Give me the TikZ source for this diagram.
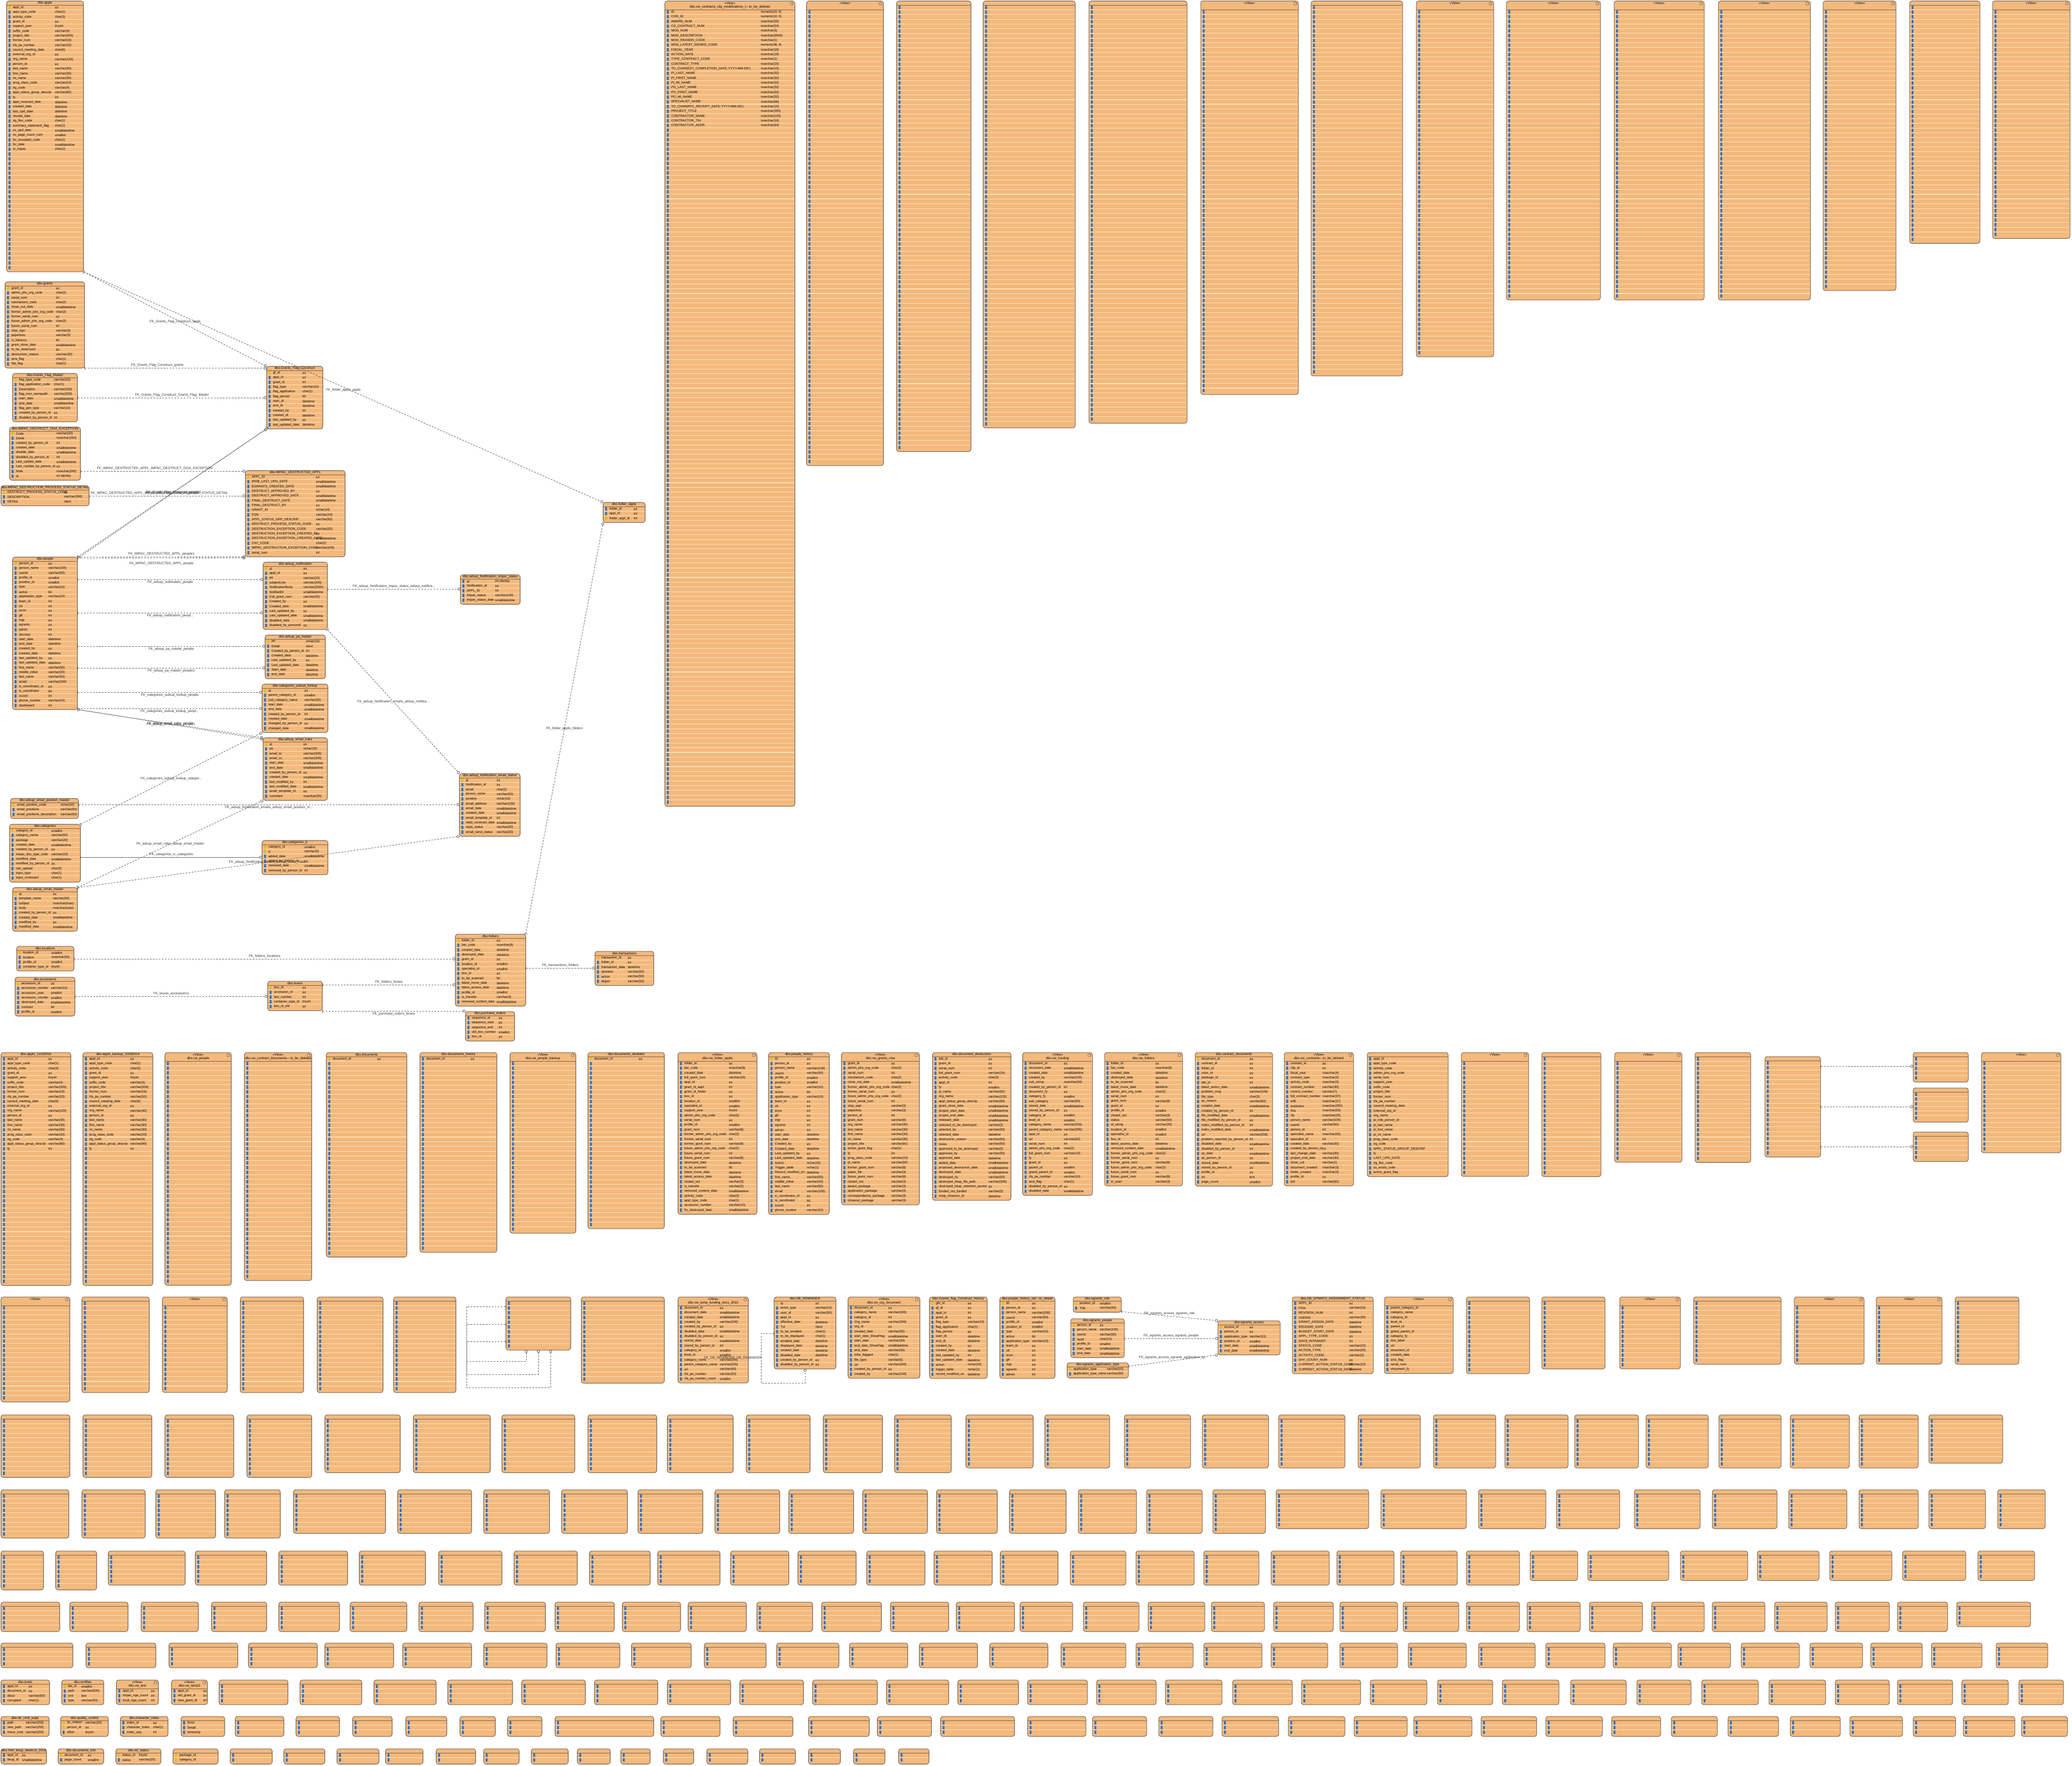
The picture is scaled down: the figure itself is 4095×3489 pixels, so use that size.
\documentclass[tikz,border=0pt]{standalone}
\usepackage{fontspec}
\setmainfont{Liberation Sans}
\usetikzlibrary{arrows.meta}
\definecolor{TblFill}{RGB}{243,185,125}
\definecolor{TblLine}{RGB}{112,98,84}
\definecolor{RowLine}{RGB}{252,226,184}
\definecolor{ColBlue}{RGB}{38,112,205}
\definecolor{KeyGold}{RGB}{236,186,28}
\definecolor{FkGray}{RGB}{95,95,95}
\tikzset{
	tbl/.style={draw=TblLine,fill=TblFill,line width=0.3pt,rounded corners=0.45mm,anchor=north west,inner sep=0pt,outer sep=0pt},
	hdrsep/.style={draw=TblLine,line width=0.25pt},
	rowsep/.style={draw=RowLine,line width=0.3pt},
	colicon/.style={fill=ColBlue},
	keyicon/.style={fill=KeyGold},
	viewicon/.style={draw=TblLine,line width=0.2pt,rounded corners=0.15mm},
	tbltitle/.style={inner sep=0pt,font=\fontsize{1.85}{2.1}\selectfont},
	coltxt/.style={anchor=west,inner sep=0pt,font=\fontsize{1.8}{2}\selectfont},
	fk/.style={draw=FkGray,line width=0.25pt,dash pattern=on 1pt off 0.7pt,
		{Bar[width=2pt,line width=0.25pt]}-{Circle[open,length=1.6pt,width=1.6pt,line width=0.25pt]}},
	fklabel/.style={inner sep=0.6pt,font=\fontsize{1.9}{2.1}\selectfont,text=black!80},
}
% table body: header height, name, x1, y1, x2, rows
\newcommand{\erbody}[6]{%
	\pgfmathsetmacro\erht{#1+9.35*#6+3.5}%
	\pgfmathsetmacro\erwd{#5-#3}%
	\node[tbl,minimum width=\erwd*0.1mm,minimum height=\erht*0.1mm] (#2) at (#3,#4) {};%
	\draw[hdrsep] (#3,#4+#1) -- (#5,#4+#1);%
	\ifnum#6>1\relax
	\draw[rowsep] \foreach \k in {2,...,#6}{(#3+1,{#4+#1+9.35*(\k-1)}) -- (#5-1,{#4+#1+9.35*(\k-1)})};%
	\fi
	\fill[colicon] \foreach \k in {1,...,#6}{(#3+4,{#4+#1+9.35*\k-8}) rectangle ++(3.5,6.6)};%
}
\newcommand{\ertable}[6]{\erbody{8}{#1}{#2}{#3}{#4}{#5}%
	\node[tbltitle] at ({(#2+#4)/2},#3+4.2) {#6};}
\newcommand{\erview}[6]{\erbody{17}{#1}{#2}{#3}{#4}{#5}%
	\node[tbltitle] at ({(#2+#4)/2},#3+4.6) {<<View>>};%
	\node[tbltitle] at ({(#2+#4)/2},#3+12.2) {#6};%
	\draw[viewicon] (#4-9,#3+2.5) rectangle (#4-3.5,#3+8);}
% column texts: [header], x1, y1, type offset, list
\newcommand{\ertext}[5][8]{%
	\foreach \cn/\ct [count=\k] in {#5}{%
		\node[coltxt] at (#2+12,{#3+#1+9.35*\k-4.6}) {\cn};
		\node[coltxt] at (#2+#4,{#3+#1+9.35*\k-4.6}) {\ct};}}
% key mark: x1, y1, row
\newcommand{\erkey}[3]{\fill[keyicon] (#1+4,{#2+8+9.35*#3-8}) rectangle ++(3.5,6.6);}

\begin{document}
\catcode`\_=12
\begin{tikzpicture}[x=0.1mm,y=-0.1mm]
\useasboundingbox (0,0) rectangle (4095,3489);
\fill[white] (0,0) rectangle (4095,3489);

% ---- linked tables, left part
\ertable{appls}{13}{2}{165}{56}{dbo.appls}
\ertext{13}{2}{95}{appl_id/int,appl_type_code/char(1),activity_code/char(3),grant_id/int,support_year/tinyint,suffix_code/varchar(4),project_title/varchar(200),former_num/varchar(19),rfa_pa_number/varchar(10),council_meeting_date/char(6),external_org_id/int,org_name/varchar(120),person_id/int,last_name/varchar(30),first_name/varchar(30),mi_name/varchar(30),prog_class_code/varchar(10),irg_code/varchar(4),appl_status_group_descrip/varchar(60),fy/int,appl_received_date/datetime,created_date/datetime,last_upd_date/datetime,receipt_date/datetime,irg_flex_code/char(1),summary_statement_flag/char(1),ss_upd_date/smalldatetime,ss_page_count_num/smallint,fsr_accepted_code/char(1),fsr_date/smalldatetime,in_impac/char(1)}
\erkey{13}{2}{1}
\ertable{grants}{10}{557}{167}{17}{dbo.grants}
\ertext{10}{557}{100}{grant_id/int,admin_phs_org_code/char(2),serial_num/int,mechanism_code/char(2),close_out_date/smalldatetime,former_admin_phs_org_code/char(2),former_serial_num/int,future_admin_phs_org_code/char(2),future_serial_num/int,stop_sign/varchar(3),paperless/varchar(3),is_tobacco/bit,grant_close_date/smalldatetime,to_be_destroyed/bit,destruction_reason/varchar(30),arra_flag/char(1),fda_flag/char(1)}
\erkey{10}{557}{1}
\ertable{gfm}{25}{738}{153}{9}{dbo.Grants_Flag_Master}
\ertext{25}{738}{81}{flag_type_code/varchar(10),flag_application_code/char(1),Description/varchar(200),flag_icon_namepath/varchar(200),start_date/smalldatetime,end_date/smalldatetime,flag_gen_type/varchar(10),created_by_person_id/int,disabled_by_person_id/int}
\erkey{25}{738}{1}
\ertable{oga}{19}{844}{159}{10}{dbo.IMPAC_DESTRUCT_OGA_EXCEPTION}
\ertext{19}{844}{92}{Code/varchar(20),Detail/nvarchar(200),created_by_person_id/int,created_date/smalldatetime,disable_date/smalldatetime,disabled_by_person_id/int,Last_update_date/smalldatetime,Last_Update_by_person_id/int,Note/nvarchar(200),id/int identity}
\erkey{19}{844}{1}
\ertable{psd}{2}{960}{176}{3}{dbo.IMPAC_DESTRUCTION_PROCESS_STATUS_DETAIL}
\ertext{2}{960}{124}{DESTRUCT_PROCESS_STATUS_CODE/int,DESCRIPTION/varchar(300),DETAIL/ntext}
\erkey{2}{960}{1}
\ertable{gfc}{527}{724}{638}{12}{dbo.Grants_Flag_Construct}
\ertext{527}{724}{70}{gf_id/int,appl_id/int,grant_id/int,flag_type/varchar(10),flag_application/char(1),flag_persist/bit,start_dt/datetime,end_dt/datetime,created_by/int,created_dt/datetime,last_updated_by/int,last_updated_date/datetime}
\erkey{527}{724}{1}
\ertable{ida}{485}{930}{682}{17}{dbo.IMPAC_DESTRUCTED_APPL}
\ertext{485}{930}{139}{APPL_ID/int,IRDB_LAST_UPD_DATE/smalldatetime,EGRANTS_CREATED_DATE/smalldatetime,DESTRUCT_APPROVED_BY/int,DESTRUCT_APPROVED_DATE/smalldatetime,FINAL_DESTRUCT_DATE/smalldatetime,FINAL_DESTRUCT_BY/int,GRANT_ID/nchar(10),FGN/varchar(19),APPL_STATUS_GRP_DESCRIP/varchar(60),DESTRUCT_PROCESS_STATUS_CODE/int,DESTRUCTION_EXCEPTION_CODE/varchar(20),DESTRUCTION_EXCEPTION_CREATED_BY/int,DESTRUCTION_EXCEPTION_CREATED_DATE/smalldatetime,CAY_CODE/char(2),IMPAC_DESTRUCTION_EXCEPTION_CODE/varchar(100),serial_num/int}
\erkey{485}{930}{1}
\ertable{fapp}{1192}{993}{1275}{3}{dbo.folder_appls}
\ertext{1192}{993}{60}{folder_id/int,appl_id/int,folder_appl_id/int}
\erkey{1192}{993}{3}
\ertable{people}{25}{1101}{153}{31}{dbo.people}
\ertext{25}{1101}{70}{person_id/int,person_name/varchar(100),userid/varchar(50),profile_id/smallint,position_id/smallint,type/varchar(10),active/bit,application_type/varchar(10),team_id/int,cft/int,econ/int,gft/int,mgt/int,egrants/int,admin/int,docman/int,start_date/datetime,end_date/datetime,created_by/int,created_date/datetime,last_updated_by/int,last_updated_date/datetime,first_name/varchar(50),middle_initial/varchar(20),last_name/varchar(50),email/varchar(100),ic_coordinator_id/int,is_coordinator/bit,iccord/int,phone_number/varchar(10),dashboard/int}
\erkey{25}{1101}{1}
\ertable{notif}{520}{1111}{647}{13}{dbo.adsup_notification}
\ertext{520}{1111}{79}{id/int,appl_id/int,pa/varchar(10),subjectLine/varchar(200),NotificationBody/varchar(2000),NotifiedDt/smalldatetime,Full_grant_num/varchar(20),Created_by/int,Created_date/smalldatetime,Last_updated_by/int,Last_updated_date/smalldatetime,disabled_date/smalldatetime,disabled_by_personid/int}
\erkey{520}{1111}{1}
\ertable{impst}{910}{1136}{1028}{5}{dbo.adsup_Notification_impac_status}
\ertext{910}{1136}{68}{id/int identity,Notification_id/int,APPL_ID/int,Impac_status/varchar(100),Impac_status_date/smalldatetime}
\ertable{pam}{524}{1255}{643}{8}{dbo.adsup_pa_master}
\ertext{524}{1255}{80}{pa/nchar(10),Detail/ntext,Created_by_person_id/int,Created_date/datetime,Last_updated_by/int,Last_updated_date/datetime,Start_date/datetime,end_date/datetime}
\erkey{524}{1255}{1}
\ertable{subcat}{518}{1352}{648}{9}{dbo.categories_subcat_lookup}
\ertext{518}{1352}{83}{id/int,parent_category_id/smallint,sub_category_name/varchar(35),start_date/smalldatetime,end_date/smalldatetime,created_by_person_id/int,created_date/smalldatetime,changed_by_person_id/int,changed_date/smalldatetime}
\erkey{518}{1352}{1}
\ertable{rules}{520}{1458}{647}{12}{dbo.adsup_email_rules}
\ertext{520}{1458}{79}{id/int,pa/nchar(10),email_to/varchar(200),email_cc/varchar(200),start_date/smalldatetime,end_date/smalldatetime,created_by_person_id/int,created_date/smalldatetime,last_modified_by/int,last_modified_date/smalldatetime,email_template_id/int,comment/nvarchar(50)}
\erkey{520}{1458}{1}
\ertable{emst}{908}{1529}{1028}{12}{dbo.adsup_Notification_email_status}
\ertext{908}{1529}{73}{id/int,Notification_id/int,email/char(2),person_name/varchar(50),position/nchar(10),email_address/varchar(100),email_date/smalldatetime,created_date/smalldatetime,email_template_id/int,reply_recieved_date/smalldatetime,reply_status/varchar(50),email_send_status/varchar(20)}
\erkey{908}{1529}{1}
\ertable{posm}{21}{1578}{155}{3}{dbo.adsup_email_position_master}
\ertext{21}{1578}{98}{email_position_code/nchar(10),email_positions/varchar(50),email_positions_description/varchar(50)}
\erkey{21}{1578}{1}
\ertable{cats}{19}{1629}{159}{11}{dbo.categories}
\ertext{19}{1629}{82}{category_id/smallint,category_name/varchar(50),package/varchar(20),created_date/smalldatetime,created_by_person_id/int,impac_doc_type_code/varchar(10),modified_date/smalldatetime,modified_by_person_id/int,can_upload/char(3),input_type/char(1),input_constraint/char(1)}
\erkey{19}{1629}{1}
\ertable{catic}{518}{1661}{648}{6}{dbo.categories_ic}
\ertext{518}{1661}{83}{category_id/smallint,ic/varchar(5),added_date/smalldatetime,added_by_person_id/int,removed_date/smalldatetime,removed_by_person_id/int}
\erkey{518}{1661}{1}\erkey{518}{1661}{2}
\ertable{emaster}{25}{1754}{153}{8}{dbo.adsup_email_master}
\ertext{25}{1754}{79}{id/int,template_name/varchar(50),subject/nvarchar(max),body/nvarchar(max),created_by_person_id/int,created_date/smalldatetime,modified_by/int,modified_date/smalldatetime}
\erkey{25}{1754}{1}
\ertable{locs}{33}{1870}{146}{4}{dbo.locations}
\ertext{33}{1870}{68}{location_id/smallint,location/nvarchar(50),profile_id/smallint,container_type_id/tinyint}
\erkey{33}{1870}{1}
\ertable{accs}{30}{1931}{148}{7}{dbo.accessions}
\ertext{30}{1931}{70}{accession_id/int,accession_number/varchar(10),accession_year/smallint,accession_counter/smallint,destroyed_date/smalldatetime,contract/bit,profile_id/smallint}
\erkey{30}{1931}{1}
\ertable{boxes}{529}{1939}{637}{5}{dbo.boxes}
\ertext{529}{1939}{68}{box_id/int,accession_id/int,box_number/int,container_type_id/tinyint,box_id_old/int}
\erkey{529}{1939}{1}
\ertable{folders}{900}{1846}{1039}{14}{dbo.folders}
\ertext{900}{1846}{81}{folder_id/int,bar_code/nvarchar(8),created_date/datetime,destroyed_date/datetime,grant_id/int,location_id/smallint,specialist_id/smallint,box_id/int,to_be_scanned/bit,latest_move_date/datetime,latest_access_date/datetime,profile_id/smallint,is_transfer/varchar(3),removed_content_date/smalldatetime}
\erkey{900}{1846}{1}
\ertable{trans}{1176}{1880}{1292}{6}{dbo.transactions}
\ertext{1176}{1880}{64}{transaction_id/int,folder_id/int,transaction_date/datetime,operator/varchar(50),action/varchar(50),object/varchar(50)}
\erkey{1176}{1880}{1}
\ertable{porders}{920}{1999}{1017}{5}{dbo.purchase_orders}
\ertext{920}{1999}{65}{sequence_id/int,sequence_start/int,sequence_end/int,old_box_number/smallint,box_id/int}

% ---- relationships
\draw[fk] (appls.south east) -- (gfc.north west) node[fklabel,midway,below] {FK_Grants_Flag_Construct_appls};
\draw[fk] (appls.south east) -- (fapp.north west) node[fklabel,midway,below] {FK_folder_appls_appls};
\draw[fk] (grants.south east) -- (gfc.west |- grants.south east) node[fklabel,pos=.4,above] {FK_Grants_Flag_Construct_grants};
\draw[fk] (gfm.east |- 0,786) -- (gfc.west |- 0,786) node[fklabel,midway,above] {FK_Grants_Flag_Construct_Grants_Flag_Master};
\draw[fk] (people.north east) -- (gfc.south west) node[fklabel,midway] {FK_Grants_Flag_Construct_people};
\draw[fk] ([xshift=0.4mm]people.north east) -- ([xshift=0.3mm,yshift=0.3mm]gfc.south west) node[fklabel,midway] {FK_Grants_Flag_Construct_people1};
\draw[fk] (oga.east |- 0,931) -- (ida.west |- 0,931) node[fklabel,pos=.45,above] {FK_IMPAC_DESTRUCTED_APPL_IMPAC_DESTRUCT_OGA_EXCEPTION};
\draw[fk] (psd.east |- 0,980) -- (ida.west |- 0,980) node[fklabel,pos=.45,above] {FK_IMPAC_DESTRUCTED_APPL_IMPAC_DESTRUCTION_PROCESS_STATUS_DETAIL};
\draw[fk] (people.north east) -- (ida.south west) node[fklabel,midway,above] {FK_IMPAC_DESTRUCTED_APPL_people1};
\draw[fk] ([yshift=-0.2mm]people.north east) -- ([yshift=-0.2mm]ida.south west) node[fklabel,midway,below=0.5mm] {FK_IMPAC_DESTRUCTED_APPL_people};
\draw[fk] (people.east |- 0,1145) -- (notif.west |- 0,1145) node[fklabel,midway,below] {FK_adsup_notification_people};
\draw[fk] (people.east |- 0,1211) -- (notif.west |- 0,1211) node[fklabel,midway,below] {FK_adsup_notification_peopl...};
\draw[fk] (people.east |- 0,1277) -- (pam.west |- 0,1277) node[fklabel,midway,below] {FK_adsup_pa_master_people};
\draw[fk] (people.east |- 0,1320) -- (pam.west |- 0,1320) node[fklabel,midway,below] {FK_adsup_pa_master_people1};
\draw[fk] (people.east |- 0,1368) -- (subcat.west |- 0,1368) node[fklabel,midway,below] {FK_categories_subcat_lookup_people};
\draw[fk] (people.east |- 0,1400) -- (subcat.west |- 0,1400) node[fklabel,midway,below] {FK_categories_subcat_lookup_peopl...};
\draw[fk] (people.south east) -- (rules.north west) node[fklabel,midway] {FK_adsup_email_rules_people};
\draw[fk] ([xshift=0.3mm]people.south east) -- ([yshift=-0.3mm]rules.north west) node[fklabel,midway] {FK_adsup_email_rules_people1};
\draw[fk] (notif.east |- 0,1164) -- (impst.west |- 0,1164) node[fklabel,midway,above] {FK_adsup_Notification_impac_status_adsup_notifica...};
\draw[fk] (notif.south east) -- (emst.north west) node[fklabel,midway] {FK_adsup_Notification_emails_adsup_notifica...};
\draw[fk] (folders.north east) -- (fapp.south west) node[fklabel,midway] {FK_folder_appls_folders};
\draw[fk] (cats.north east) -- (subcat.south west) node[fklabel,midway] {FK_categories_subcat_lookup_categor...};
\draw[fk] (emaster.north east) -- (rules.south west) node[fklabel,midway] {FK_adsup_email_rules_adsup_email_master};
\draw[fk] (posm.east |- 0,1590) -- (emst.west |- 0,1590) node[fklabel,midway,below] {FK_adsup_Notification_emails_adsup_email_position_m...};
\draw[fk,solid] (cats.east |- 0,1694) -- (catic.west |- 0,1694) node[fklabel,midway,above] {FK_categories_ic_categories};
\draw[fk] (emaster.north east) -- (emst.south west) node[fklabel,midway] {FK_adsup_Notification_emails_adsup_email_mast...};
\draw[fk] (locs.east |- 0,1895) -- (folders.west |- 0,1895) node[fklabel,midway,above] {FK_folders_locations};
\draw[fk] (accs.east |- 0,1969) -- (boxes.west |- 0,1969) node[fklabel,midway,above] {FK_boxes_accessions1};
\draw[fk] (boxes.east |- 0,1946) -- (folders.west |- 0,1946) node[fklabel,midway,above] {FK_folders_boxes};
\draw[fk] (folders.east |- 0,1913) -- (trans.west |- 0,1913) node[fklabel,midway,above] {FK_transactions_folders};
\draw[fk] (boxes.east |- 0,1998) -- (porders.west |- 0,1998) node[fklabel,midway,below] {FK_purchase_orders_boxes};

% ---- tall tables and views, top
\erview{vwa}{1314}{2}{1571}{168}{dbo.vw_contracts_clip_modifications_t-{}-{}-to_be_deleted}
\ertext[17]{1314}{2}{189}{ID/{numeric(10, 0)},CON_ID/{numeric(10, 0)},AWARD_NUM/nvarchar(50),CS_CONTRACT_NUM/nvarchar(54),MOD_NUM/nvarchar(3),MOD_DESCRIPTION/nvarchar(2000),MOD_REASON_CODE/nvarchar(1),MOD_LATEST_SIGNED_CODE/{numeric(38, 0)},FISCAL_YEAR/nvarchar(19),ACTION_DATE/nvarchar(19),TYPE_CONTRACT_CODE/nvarchar(1),CONTRACT_TYPE/nvarchar(10),{TO_CHAR(EST_COMPLETION_DATE,'YYYY-MM-DD')}/nvarchar(10),PI_LAST_NAME/nvarchar(32),PI_FIRST_NAME/nvarchar(32),PI_MI_NAME/nvarchar(32),PO_LAST_NAME/nvarchar(32),PO_FIRST_NAME/nvarchar(32),PO_MI_NAME/nvarchar(32),SPECIALIST_NAME/nvarchar(66),{TO_CHAR(RFC_RECEIPT_DATE,'YYYY-MM-DD')}/nvarchar(10),PROJECT_TITLE/nvarchar(200),CONTRACTOR_NAME/nvarchar(120),CONTRACTOR_TIN/nvarchar(10),CONTRACTOR_ADDR/nvarchar(64)}
\erview{vwb}{1594}{2}{1746}{96}{}
\ertable{tbc}{1772}{2}{1919}{94}{}
\ertable{tbd}{1943}{2}{2125}{89}{}
\ertable{tbe}{2152}{2}{2346}{88}{}
\erview{vwf}{2373}{2}{2566}{81}{}
\ertable{tbg}{2591}{2}{2772}{78}{}
\erview{vwh}{2799}{2}{2952}{73}{}
\erview{vwi}{2977}{2}{3163}{61}{}
\erview{vwj}{3190}{2}{3368}{61}{}
\erview{vwk}{3396}{2}{3578}{61}{}
\erview{vwl}{3603}{2}{3747}{59}{}
\ertable{tbm}{3774}{2}{3913}{50}{}
\erview{vwn}{3938}{2}{4091}{48}{}

% ---- middle band, upper row
\ertable{ap12}{2}{2080}{140}{48}{dbo.appls_12192016}
\ertext{2}{2080}{93}{appl_id/int,appl_type_code/char(1),activity_code/char(3),grant_id/int,support_year/tinyint,suffix_code/varchar(4),project_title/varchar(200),former_num/varchar(19),rfa_pa_number/varchar(10),council_meeting_date/char(6),external_org_id/int,org_name/varchar(120),person_id/int,last_name/varchar(30),first_name/varchar(30),mi_name/varchar(30),prog_class_code/varchar(10),irg_code/varchar(4),appl_status_group_descrip/varchar(60),fy/int}
\ertable{apbk}{164}{2080}{302}{48}{dbo.appls_backup_10292014}
\ertext{164}{2080}{93}{appl_id/int,appl_type_code/char(1),activity_code/char(3),grant_id/int,support_year/tinyint,suffix_code/varchar(4),project_title/varchar(200),former_num/varchar(19),rfa_pa_number/varchar(10),council_meeting_date/char(6),external_org_id/int,org_name/varchar(40),person_id/int,last_name/varchar(30),first_name/varchar(30),mi_name/varchar(30),prog_class_code/varchar(10),irg_code/varchar(4),appl_status_group_descrip/varchar(60),fy/int}
\erview{vwpeople}{326}{2080}{457}{47}{dbo.vw_people}
\erview{vwcdoc}{483}{2080}{616}{46}{dbo.vw_contract_documents-{}-{}-to_be_deleted}
\ertable{docs}{645}{2080}{804}{42}{dbo.documents}
\ertext{645}{2080}{100}{document_id/int}
\erkey{645}{2080}{1}
\ertable{dochist}{830}{2080}{982}{41}{dbo.documents_history}
\ertext{830}{2080}{100}{document_id/int}
\erview{vwpbk}{1008}{2080}{1138}{36}{dbo.vw_people_backup}
\ertable{docdis}{1162}{2080}{1313}{36}{dbo.documents_disabled}
\ertext{1162}{2080}{100}{document_id/int}
\erkey{1162}{2080}{1}
\erview{vwfapp}{1340}{2080}{1496}{32}{dbo.vw_folder_appls}
\ertext[17]{1340}{2080}{100}{folder_id/int,bar_code/nvarchar(8),created_date/datetime,full_grant_num/varchar(19),appl_id/int,grant_id_appl/int,grant_id_folder/int,box_id/int,location_id/smallint,specialist_id/smallint,support_year/tinyint,admin_phs_org_code/char(2),serial_num/int,profile_id/smallint,grant_num/varchar(8),former_admin_phs_org_code/char(2),former_serial_num/int,former_grant_num/varchar(8),future_admin_phs_org_code/char(2),future_serial_num/int,future_grant_num/varchar(8),destroyed_date/datetime,to_be_scanned/bit,latest_move_date/datetime,latest_access_date/datetime,closed_out/varchar(3),is_transfer/varchar(3),removed_content_date/smalldatetime,activity_code/char(3),appl_type_code/char(1),accession_number/varchar(10),frc_destroyed_date/smalldatetime}
\ertable{phist}{1519}{2080}{1639}{33}{dbo.people_history}
\ertext{1519}{2080}{75}{ID/int,person_id/int,person_name/varchar(100),userid/varchar(50),profile_id/smallint,position_id/smallint,type/varchar(10),active/bit,application_type/varchar(10),team_id/int,cft/int,econ/int,gft/int,mgt/int,egrants/int,admin/int,start_date/datetime,end_date/datetime,Created_by/int,Created_date/datetime,Last_updated_by/int,Last_updated_date/datetime,Action/nchar(10),Trigger_table/nchar(1),Record_modified_on/datetime,first_name/varchar(50),middle_initial/varchar(20),last_name/varchar(50),email/varchar(100),ic_coordinator_id/int,is_coordinator/bit,iccord/int,phone_number/varchar(10)}
\erkey{1519}{2080}{1}
\erview{vwgnew}{1663}{2080}{1817}{30}{dbo.vw_grants_new}
\ertext[17]{1663}{2080}{98}{grant_id/int,admin_phs_org_code/char(2),serial_num/int,mechanism_code/char(2),close_out_date/smalldatetime,former_admin_phs_org_code/char(2),former_serial_num/int,future_admin_phs_org_code/char(2),future_serial_num/int,stop_sign/varchar(3),paperless/varchar(3),person_id/int,grant_num/varchar(8),org_name/varchar(40),last_name/varchar(30),first_name/varchar(30),mi_name/varchar(30),project_title/varchar(81),active_grant_flag/char(1),fy/int,prog_class_code/varchar(10),pi_name/varchar(92),former_grant_num/varchar(8),paper_file/varchar(3),future_grant_num/varchar(8),closed_out/varchar(3),award_package/varchar(3),application_package/varchar(3),correspondence_package/varchar(3),closeout_package/varchar(3)}
\ertable{docdes}{1843}{2080}{1998}{30}{dbo.document_destruction}
\ertext{1843}{2080}{110}{tab_id/int,grant_id/int,serial_num/int,full_grant_num/varchar(19),activity_code/char(3),appl_id/int,fy/smallint,pi_name/varchar(92),org_name/varchar(120),appl_status_group_descrip/varchar(60),grant_close_date/smalldatetime,project_start_date/smalldatetime,project_end_date/smalldatetime,released_date/smalldatetime,selected_to_be_destroyed/varchar(3),selected_by/varchar(50),selected_date/datetime,destruction_reason/varchar(50),notes/varchar(50),approved_to_be_destroyed/varchar(3),approved_by/varchar(50),approved_date/datetime,added_date/smalldatetime,proposed_destruction_date/smalldatetime,destroyed_date/smalldatetime,destroyed_by/varchar(50),destroyed_bkup_file_path/varchar(200),destroyed_bkup_retention_period/int,funded_not_funded/varchar(3),impp_closeout_dt/datetime}
\erview{vwfund}{2021}{2080}{2159}{28}{dbo.vw_funding}
\ertext[17]{2021}{2080}{81}{document_id/int,document_date/smalldatetime,created_date/smalldatetime,created_by/varchar(100),sub_string/nvarchar(50),created_by_person_id/int,document_fy/int,category_fy/smallint,sub_category/varchar(50),stored_date/smalldatetime,stored_by_person_id/int,category_id/smallint,level_id/smallint,category_name/varchar(255),parent_category_name/varchar(255),appl_id/int,url/varchar(62),serial_num/int,admin_phs_org_code/char(2),full_grant_num/varchar(19),fy/int,grant_id/int,parent_id/smallint,grand_parent_id/smallint,rfa_pa_number/varchar(10),arra_flag/char(1),disabled_by_person_id/int,disabled_date/smalldatetime}
\erview{vwfold}{2183}{2080}{2337}{26}{dbo.vw_folders}
\ertext[17]{2183}{2080}{100}{folder_id/int,bar_code/nvarchar(8),created_date/datetime,destroyed_date/datetime,to_be_scanned/bit,latest_move_date/datetime,admin_phs_org_code/char(2),serial_num/int,grant_num/varchar(8),grant_id/int,profile_id/smallint,closed_out/varchar(3),status/varchar(50),id_string/varchar(20),location_id/smallint,specialist_id/smallint,box_id/int,latest_access_date/datetime,removed_content_date/smalldatetime,former_admin_phs_org_code/char(2),former_serial_num/int,former_grant_num/varchar(8),future_admin_phs_org_code/char(2),future_serial_num/int,future_grant_num/varchar(8),in_scan/varchar(3)}
\ertable{cdocs}{2362}{2080}{2515}{27}{dbo.contract_documents}
\ertext{2362}{2080}{107}{document_id/int,contract_id/int,folder_id/int,color_id/int,package_id/int,tab_id/int,latest_action_date/smalldatetime,problem_msg/varchar(100),file_type/char(3),qc_reason/varchar(50),created_date/smalldatetime,created_by_person_id/int,file_modified_date/smalldatetime,file_modified_by_person_id/int,index_modified_by_person_id/int,index_modified_date/smalldatetime,url/varchar(200),problem_reported_by_person_id/int,disabled_date/smalldatetime,disabled_by_person_id/int,qc_date/smalldatetime,qc_person_id/int,stored_date/smalldatetime,stored_by_person_id/int,profile_id/int,txt/text,page_count/smallint}
\erkey{2362}{2080}{1}
\erview{vwctr}{2538}{2080}{2675}{26}{dbo.vw_contracts-{}-{}-to_be_deleted}
\ertext[17]{2538}{2080}{75}{contract_id/int,clip_id/int,fiscal_year/nvarchar(4),contract_type/nvarchar(2),activity_code/nvarchar(3),contract_number/varchar(30),control_number/varchar(7),full_contract_number/nvarchar(37),adb/nvarchar(37),institution/nvarchar(255),hhs/nvarchar(20),rfp/nvarchar(20),person_name/varchar(100),userid/varchar(50),person_id/int,specialist_name/nvarchar(50),specialist_id/int,created_date/varchar(30),created_by_person_id/int,last_change_date/varchar(30),project_end_date/varchar(30),close_out/varchar(1),document_created/nvarchar(3),folder_created/nvarchar(3),profile_id/int,pid/varchar(50)}
\ertable{apclip}{2702}{2080}{2862}{25}{}
\ertext{2702}{2080}{100}{appl_id/{},appl_type_code/{},activity_code/{},admin_phs_org_code/{},serial_num/{},support_year/{},suffix_code/{},project_title/{},former_num/{},rfa_pa_number/{},council_meeting_date/{},external_org_id/{},org_name/{},pi_role_person_id/{},pi_last_name/{},pi_first_name/{},pi_mi_name/{},prog_class_code/{},irg_code/{},APPL_STATUS_GROUP_DESCRIP/{},fy/{},LAST_UPD_DATE/{},irg_flex_code/{},ss_exists_code/{},active_grant_flag/{}}
\erview{vwq}{2888}{2080}{3021}{24}{}
\ertable{tbr}{3047}{2080}{3164}{25}{}
\erview{vws}{3191}{2080}{3324}{21}{}
\ertable{tbt}{3350}{2080}{3460}{22}{}
\ertable{umgr}{3488}{2088}{3598}{20}{}
\ertable{umga}{3781}{2080}{3890}{5}{}
\ertable{umgb}{3781}{2150}{3890}{6}{}
\ertable{umgc}{3781}{2237}{3890}{5}{}
\erview{vwu}{3916}{2080}{4073}{19}{}
\draw[fk] (umgr.east |- 0,2107) -- (umga.west |- 0,2107);
\draw[fk] (umgr.east |- 0,2187) -- (umgb.west |- 0,2187);
\draw[fk] (umgr.east |- 0,2266) -- (umgc.west |- 0,2266);

% ---- middle band, lower row
\erview{lwa}{2}{2563}{138}{20}{}
\ertable{lwb}{162}{2563}{295}{19}{}
\erview{lwc}{321}{2563}{449}{18}{}
\ertable{lwd}{475}{2563}{600}{19}{}
\ertable{lwe}{627}{2563}{757}{19}{}
\ertable{lwf}{778}{2563}{901}{19}{}
\ertable{merge}{1000}{2563}{1128}{10}{}
\foreach \ya/\yb/\xu in {2582/2690/1040,2617/2716/1064,2651/2742/1088}
	\draw[fk] (merge.west |- 0,\ya) -- (922,\ya) -- (922,\yb) -- (\xu,\yb) -- (merge.south -| \xu,0);
\ertable{lwh}{1149}{2563}{1313}{17}{}
\erview{vwtfd}{1340}{2563}{1479}{16}{dbo.vw_temp_funding_docs_2010}
\ertext[17]{1340}{2563}{82}{document_id/int,document_date/smalldatetime,created_date/smalldatetime,created_by/varchar(100),created_by_person_id/int,disabled_date/smalldatetime,disabled_by_person_id/int,stored_date/smalldatetime,stored_by_person_id/int,category_id/smallint,level_id/smallint,category_name/varchar(255),parent_category_name/varchar(255),url/varchar(69),rfa_pa_number/varchar(20),rfa_pa_number_count/smallint}
\ertable{dbrem}{1530}{2563}{1652}{14}{dbo.DB_REMINDER}
\ertext{1530}{2563}{81}{id/int,event_type/varchar(10),user_id/varchar(50),appl_id/int,effective_date/datetime,Txt/ntext,to_be_emailed/char(1),to_be_displayed/char(1),emailed_date/datetime,displayed_date/datetime,created_date/datetime,disabled_date/datetime,created_by_person_id/int,disabled_by_person_id/int}
\erkey{1530}{2563}{1}
\draw[fk] (dbrem.west |- 0,2635) -- ++(-26,0) -- ++(0,98) -- ++(87,0) -- (1591,0 |- dbrem.south);
\node[fklabel] (dbremlbl) at (1448,2684) {FK_DB_REMINDER_DB_REMINDER};
\erview{vworg}{1676}{2563}{1818}{15}{dbo.vw_org_document}
\ertext[17]{1676}{2563}{79}{document_id/int,category_name/varchar(100),category_id/int,Org_name/varchar(200),org_id/int,created_date/varchar(30),start_date_ShowFlag/smalldatetime,start_date/varchar(30),end_date_ShowFlag/smalldatetime,end_date/varchar(30),tobe_flagged/char(1),file_type/varchar(5),url/varchar(200),created_by_person_id/int,created_by/varchar(100)}
\ertable{gfch}{1837}{2563}{1951}{16}{dbo.Grants_flag_Construct_History}
\ertext{1837}{2563}{75}{gfh_id/int,gf_id/int,appl_id/int,grant_id/int,flag_type/varchar(10),flag_application/char(1),flag_persist/bit,start_dt/datetime,end_dt/datetime,created_by/int,created_date/datetime,last_updated_by/int,last_updated_date/datetime,action/nchar(10),trigger_table/nchar(1),record_modified_on/datetime}
\erkey{1837}{2563}{1}
\ertable{phold}{1976}{2563}{2085}{16}{dbo.people_history_old-{}-{}-to_delete}
\ertext{1976}{2563}{63}{ID/int,person_id/int,person_name/varchar(100),userid/varchar(50),profile_id/smallint,position_id/smallint,type/varchar(10),active/bit,application_type/varchar(10),team_id/int,cft/int,econ/int,gft/int,mgt/int,egrants/int,admin/int}
\erkey{1976}{2563}{1}
\ertable{erole}{2121}{2563}{2216}{2}{dbo.egrants_role}
\ertext{2121}{2563}{52}{position_id/smallint,Title/varchar(50)}
\erkey{2121}{2563}{1}
\ertable{epeople}{2116}{2606}{2222}{7}{dbo.egrants_people}
\ertext{2116}{2606}{57}{person_id/int,person_name/varchar(100),userid/varchar(50),netid/char(10),profile_id/smallint,start_date/smalldatetime,end_date/smalldatetime}
\erkey{2116}{2606}{1}
\ertable{eapp}{2109}{2693}{2230}{2}{dbo.egrants_application_type}
\ertext{2109}{2693}{78}{application_type/varchar(10),application_type_name/varchar(50)}
\erkey{2109}{2693}{1}
\ertable{eacc}{2407}{2610}{2530}{6}{dbo.egrants_access}
\ertext{2407}{2610}{62}{access_id/int,person_id/int,application_type/varchar(10),position_id/smallint,start_date/smalldatetime,end_date/smalldatetime}
\erkey{2407}{2610}{1}
\draw[fk] (erole.east |- 0,2592) -- (eacc.north west) node[fklabel,midway,above] {FK_egrants_access_egrants_role};
\draw[fk] (epeople.east |- 0,2645) -- (eacc.west |- 0,2645) node[fklabel,midway,above] {FK_egrants_access_egrants_people};
\draw[fk] (eapp.east |- 0,2700) -- (eacc.south west) node[fklabel,midway,above] {FK_egrants_access_egrants_application_ty...};
\ertable{gpmats}{2554}{2563}{2714}{15}{dbo.DB_GPMATS_ASSIGNMENT_STATUS}
\ertext{2554}{2563}{112}{APPL_ID/int,FGN/varchar(19),REVISION_NUM/int,USERID/varchar(30),GRANT_ASSIGN_DATE/datetime,RELEASE_DATE/datetime,BUDGET_START_DATE/datetime,APPL_TYPE_CODE/int,DAYS_INTRANSIT/int,STATUS_CODE/varchar(10),ACTION_TYPE/varchar(20),ACTIVITY_CODE/varchar(3),DAY_COUNT_NUM/int,CURRENT_ACTION_STATUS_CODE/varchar(10),CURRENT_ACTION_STATUS_DATE/datetime}
\erview{lws}{2736}{2563}{2872}{14}{}
\ertext[17]{2736}{2563}{90}{parent_category_id/{},category_name/{},category_id/{},level_id/{},parent_id/{},grand_parent_id/{},category_fy/{},doc_label/{},url/{},document_id/{},created_date/{},arra_flag/{},serial_num/{},document_fy/{}}
\ertable{lwt}{2898}{2563}{3023}{15}{}
\ertable{lwu}{3047}{2563}{3172}{14}{}
\erview{lwv}{3201}{2563}{3321}{13}{}
\ertable{lww}{3347}{2563}{3520}{13}{}
\erview{lwx}{3546}{2563}{3684}{12}{}
\erview{lwy}{3708}{2563}{3838}{12}{}
\ertable{lwz}{3864}{2563}{3990}{13}{}

% ---- small tables, bottom rows
\foreach \xa/\xb/\n [count=\i] in {2/138/12,164/300/12,326/462/12,488/616/12,642/791/11,817/969/11,992/1136/11,1162/1298/11,1319/1449/11,1475/1601/11,1627/1744/11,1768/1880/11,1909/2042/10,2065/2193/10,2222/2353/10,2376/2507/10,2527/2658/10,2684/2807/10,2833/2956/10,2974/3099/10,3112/3238/10,3253/3376/10,3397/3520/10,3538/3655/10,3674/3791/10,3812/3958/9}
	{\ertable{ra\i}{\xa}{2796}{\xb}{\n}{}}
\foreach \xa/\xb/\n [count=\i] in {2/136/9,162/287/9,308/426/9,444/554/9,580/762/8,786/932/8,956/1086/8,1110/1240/8,1261/1389/8,1413/1541/8,1559/1687/8,1705/1833/8,1851/1971/8,1995/2107/8,2131/2246/8,2266/2376/8,2397/2501/8,2522/2705/7,2729/2898/7,2922/3055/7,3076/3201/7,3230/3360/7,3384/3512/7,3535/3650/7,3674/3791/7,3812/3924/7,3948/4042/7}
	{\ertable{rb\i}{\xa}{2944}{\xb}{\n}{}}
\foreach \xa/\xb/\n [count=\i] in {2/86/7,110/191/7,214/366/6,386/527/6,551/687/6,710/841/6,867/992/6,1016/1141/6,1165/1285/6,1300/1423/6,1444/1559/6,1577/1692/6,1713/1828/6,1846/1961/6,1977/2091/6,2115/2225/6,2245/2360/6,2379/2488/6,2512/2627/6,2642/2755/6,2768/2880/6,2898/3003/6,3024/3118/5,3138/3298/5,3321/3454/5,3473/3595/5,3616/3739/5,3760/3885/5,3909/4021/5}
	{\ertable{rc\i}{\xa}{3065}{\xb}{\n}{}}
\foreach \xa/\xb/\n [count=\i] in {2/118/5,138/253/5,279/392/5,418/527/5,551/671/5,692/804/5,828/935/5,958/1078/5,1097/1214/5,1230/1345/5,1360/1475/5,1496/1606/5,1624/1742/5,1760/1875/5,1890/2005/5,2016/2120/5,2141/2251/5,2269/2381/5,2394/2499/5,2517/2635/5,2648/2762/5,2773/2883/5,2898/3003/5,3018/3123/5,3141/3246/5,3264/3368/5,3384/3488/5,3507/3611/5,3627/3734/5,3750/3849/5,3867/4013/4}
	{\ertable{rd\i}{\xa}{3166}{\xb}{\n}{}}
\foreach \xa/\xb/\n [count=\i] in {2/144/4,170/308/4,334/470/4,491/627/4,642/778/4,796/932/4,956/1081/4,1099/1225/4,1248/1366/4,1392/1514/4,1535/1658/4,1679/1794/4,1817/1932/4,1956/2071/4,2097/2225/4,2245/2358/4,2379/2494/4,2512/2624/4,2648/2762/4,2783/2898/4,2922/3034/4,3055/3172/4,3188/3303/4,3316/3420/4,3441/3556/4,3577/3681/4,3697/3799/4,3817/3917/4,3945/4047/4}
	{\ertable{re\i}{\xa}{3247}{\xb}{\n}{}}
\ertable{kmdc}{2}{3320}{98}{4}{dbo.kmdc}
\ertext{2}{3320}{54}{appl_id/int,document_id/int,descr/varchar(50),corrupted/char(1)}
\ertable{xmlf}{122}{3320}{205}{4}{dbo.xmlfiles}
\ertext{122}{3320}{38}{file_id/smallint,path/varchar(500),xml/text,type/varchar(50)}
\erkey{122}{3320}{1}
\erview{vwtest}{230}{3320}{313}{3}{dbo.vw_test}
\ertext[17]{230}{3320}{68}{appl_id/int,impac_nga_count/int,local_nga_count/int}
\erview{vwtemp}{339}{3320}{410}{3}{dbo.vw_temp2}
\ertext[17]{339}{3320}{62}{appl_id/int,old_grant_id/int,new_grant_id/int}
\foreach \xa/\xb/\n [count=\i] in {433/569/4,593/715/4,739/862/4,885/1013/4,1031/1157/4,1175/1300/4,1319/1444/4,1462/1588/4,1606/1734/4,1752/1875/4,1893/2013/4,2031/2149/4,2167/2285/4,2303/2415/4,2436/2554/4,2572/2689/4,2708/2820/4,2841/2950/4,2969/3081/4,3104/3214/4,3235/3342/4,3363/3475/4,3496/3608/4,3627/3734/4,3750/3859/4,3877/3969/4,3990/4078/4}
	{\ertable{rf\i}{\xa}{3320}{\xb}{\n}{}}
\ertable{dircmd}{2}{3392}{97}{3}{dbo.dir_cmd_supp}
\ertext{2}{3392}{48}{path/varchar(255),new_path/varchar(255),move_cmd/varchar(255)}
\ertable{qctl}{120}{3392}{214}{3}{dbo.quality_control}
\ertext{120}{3392}{48}{qc_reason/varchar(20),person_id/int,effort/tinyint}
\erkey{120}{3392}{1}\erkey{120}{3392}{2}
\ertable{charidx}{238}{3392}{332}{3}{dbo.character_index}
\ertext{238}{3392}{64}{index_id/int,character_index/char(1),index_seq/int}
\ertable{immc}{358}{3392}{444}{3}{}
\ertext{358}{3392}{50}{Error/{},Detail/{},timestmp/{}}
\foreach \xa/\xb/\n [count=\i] in {465/561/3,585/671/3,697/775/3,802/883/3,909/979/3,1003/1071/3,1097/1292/3,1306/1423/3,1449/1567/3,1598/1718/3,1734/1841/3,1859/2005/3,2031/2146/3,2159/2266/3,2290/2397/3,2415/2527/3,2546/2658/3,2676/2781/3,2794/2909/3,2927/3037/3,3055/3167/3,3185/3282/3,3303/3394/3,3415/3515/3,3538/3637/3,3656/3760/3,3781/3865/3,3880/3982/3,3995/4086/3}
	{\ertable{rg\i}{\xa}{3392}{\xb}{\n}{}}
\ertable{immbk}{2}{3456}{92}{2}{dbo.Imm_bkup_destruct_2016}
\ertext{2}{3456}{41}{appl_id/int,bkup_dt/smalldatetime}
\ertable{docinfo}{115}{3456}{205}{2}{dbo.documents_info}
\ertext{115}{3456}{58}{document_id/int,page_count/smallint}
\erkey{115}{3456}{1}
\ertable{refst}{229}{3456}{318}{2}{dbo.ref_status}
\ertext{229}{3456}{45}{status_id/tinyint,status/varchar(20)}
\erkey{229}{3456}{1}
\ertable{packrul}{342}{3456}{431}{2}{}
\ertext{342}{3456}{50}{package_id/{},category_id/{}}
\erkey{342}{3456}{1}\erkey{342}{3456}{2}
\foreach \xa/\xb/\n [count=\i] in {455/538/2,561/642/2,666/749/2,762/836/2,862/940/2,956/1026/2,1050/1123/2,1141/1206/2,1227/1285/2,1311/1371/2,1397/1478/2,1501/1572/2,1598/1661/2,1687/1749/2,1776/1836/2}
	{\ertable{rh\i}{\xa}{3456}{\xb}{\n}{}}
\end{tikzpicture}
\end{document}
